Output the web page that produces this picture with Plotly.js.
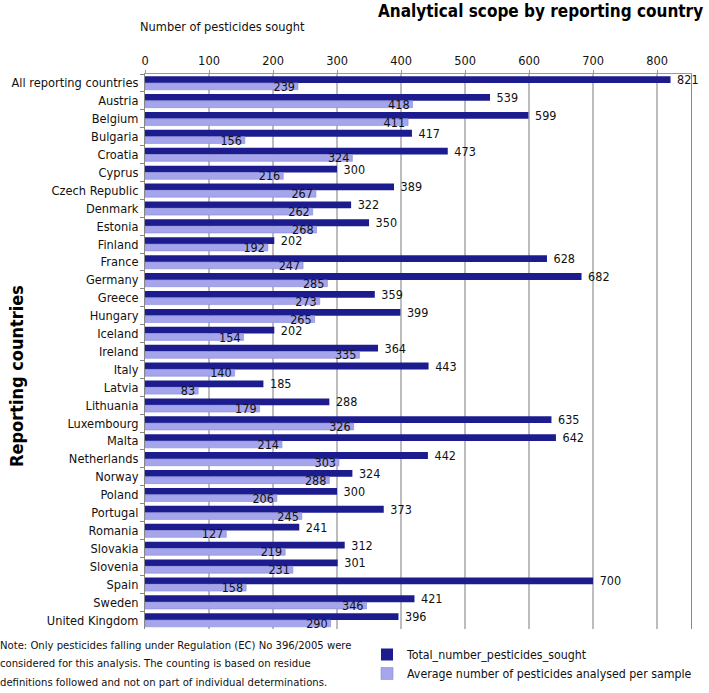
<!DOCTYPE html>
<html>
<head>
<meta charset="utf-8">
<script src="https://cdn.plot.ly/plotly-3.0.1.min.js"></script>
<style>html,body{margin:0;padding:0;background:#fff;}#chart{width:709px;height:693px;}</style>
</head>
<body>
<div id="chart"></div>
<script>
const countries = ["All reporting countries","Austria","Belgium","Bulgaria","Croatia","Cyprus","Czech Republic","Denmark","Estonia","Finland","France","Germany","Greece","Hungary","Iceland","Ireland","Italy","Latvia","Lithuania","Luxembourg","Malta","Netherlands","Norway","Poland","Portugal","Romania","Slovakia","Slovenia","Spain","Sweden","United Kingdom"];
const totalSought = [821,539,599,417,473,300,389,322,350,202,628,682,359,399,202,364,443,185,288,635,642,442,324,300,373,241,312,301,700,421,396];
const avgPerSample = [239,418,411,156,324,216,267,262,268,192,247,285,273,265,154,335,140,83,179,326,214,303,288,206,245,127,219,231,158,346,290];
const xTicks = [0,100,200,300,400,500,600,700,800];
const noteLines = [
  "Note: Only pesticides falling under Regulation (EC) No 396/2005 were",
  "considered for this analysis. The counting is based on residue",
  "definitions followed and not on part of individual determinations."
];

const FONT = '"DejaVu Sans Condensed", "DejaVu Sans", Verdana, sans-serif';
const L = 145, R = 691, T = 74, B = 629;
const px = x => (x - L) / (R - L);
const py = y => (B - y) / (B - T);

const traces = [
  {
    type: 'bar', orientation: 'h', name: 'Total_number_pesticides_sought',
    y: countries, x: totalSought,
    texttemplate: '\u00a0%{x}', textposition: 'outside', constraintext: 'none', cliponaxis: false, textangle: 0,
    textfont: {family: FONT, size: 12.5, color: '#111'},
    marker: {color: '#1c1c8f', line: {width: 0}},
    hoverinfo: 'x+y'
  },
  {
    type: 'bar', orientation: 'h', name: 'Average number of pesticides analysed per sample',
    y: countries, x: avgPerSample,
    text: avgPerSample.map(String), textposition: 'inside', insidetextanchor: 'end', constraintext: 'none', cliponaxis: false, textangle: 0,
    insidetextfont: {family: FONT, size: 12.5, color: '#111'},
    marker: {color: '#a5a5ec', line: {width: 0.6, color: '#8a8ad8'}},
    hoverinfo: 'x+y'
  }
];

const annotations = [
  {text: '<b>Analytical scope by reporting country</b>', xref: 'paper', yref: 'paper',
   x: px(705), xanchor: 'right', y: py(11), yanchor: 'middle', showarrow: false,
   font: {family: FONT, size: 17, color: '#000'}},
  {text: 'Number of pesticides sought', xref: 'paper', yref: 'paper',
   x: px(138), xanchor: 'left', y: py(27), yanchor: 'middle', showarrow: false,
   font: {family: FONT, size: 12.7, color: '#111'}},
  {text: '<b>Reporting countries</b>', xref: 'paper', yref: 'paper', textangle: -90,
   x: px(16), xanchor: 'center', y: py(376), yanchor: 'middle', showarrow: false,
   font: {family: FONT, size: 18, color: '#000'}}
];
const noteY = [645, 663.5, 682];
noteLines.forEach((t, i) => annotations.push({
  text: t, xref: 'paper', yref: 'paper', x: px(-2), xanchor: 'left', y: py(noteY[i]), yanchor: 'middle',
  align: 'left', showarrow: false, font: {family: FONT, size: 11.2, color: '#111'}
}));

const layout = {
  width: 709, height: 693,
  margin: {l: L, r: 709 - R, t: T, b: 693 - B, autoexpand: false},
  paper_bgcolor: '#fff', plot_bgcolor: '#fff',
  font: {family: FONT, size: 12.5, color: '#111'},
  barmode: 'group', bargap: 0.24, bargroupgap: 0,
  showlegend: true,
  legend: {orientation: 'v', x: px(367), xanchor: 'left', y: py(640), yanchor: 'top',
           font: {family: FONT, size: 12.3, color: '#111'}, itemwidth: 30, tracegroupgap: 0, bgcolor: 'rgba(0,0,0,0)'},
  xaxis: {
    side: 'top', range: [0, 853], tickvals: xTicks, ticktext: xTicks.map(String),
    showgrid: true, gridcolor: '#bdbdbd', gridwidth: 1.5, zeroline: false,
    showline: true, linecolor: '#999', linewidth: 1,
    ticks: 'outside', ticklen: 3, tickcolor: '#999',
    tickfont: {family: FONT, size: 12.7, color: '#111'}, fixedrange: true
  },
  yaxis: {
    type: 'category', autorange: 'reversed', showgrid: false, zeroline: false,
    showline: true, linecolor: '#888', linewidth: 1, mirror: true,
    ticks: 'outside', ticklen: 4, tickcolor: '#888', tickson: 'boundaries',
    tickfont: {family: FONT, size: 12.7, color: '#111'}, ticklabelstandoff: 3, fixedrange: true
  },
  annotations: annotations
};

Plotly.newPlot('chart', traces, layout, {displayModeBar: false, staticPlot: true});
</script>
</body>
</html>
